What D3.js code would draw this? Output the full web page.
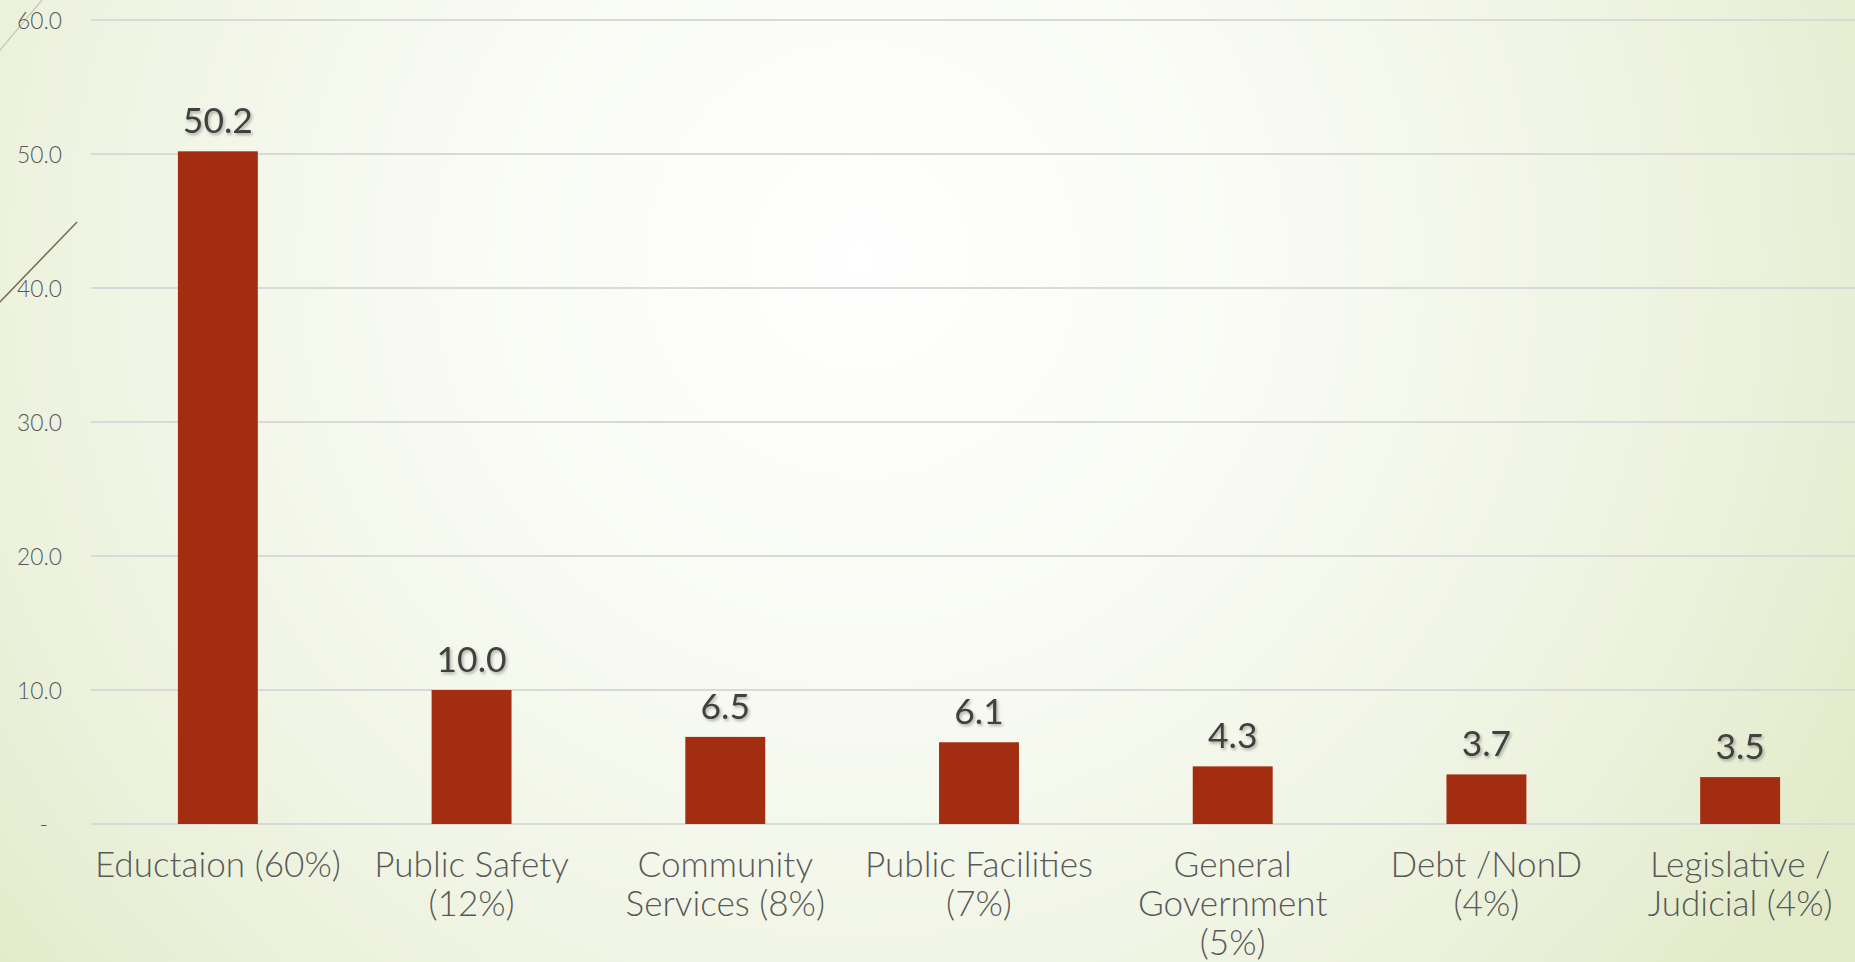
<!DOCTYPE html>
<html>
<head>
<meta charset="utf-8">
<script src="https://cdn.jsdelivr.net/npm/d3@7"></script>
<style>
  html, body { margin: 0; padding: 0; overflow: hidden; }
  body { width: 1855px; height: 962px; }
  svg { display: block; }
</style>
</head>
<body>
<svg id="chart" width="1855" height="962"></svg>
<script>
// ---- data ----
const categories = [
  "Eductaion (60%)",
  "Public Safety (12%)",
  "Community Services (8%)",
  "Public Facilities (7%)",
  "General Government (5%)",
  "Debt /NonD (4%)",
  "Legislative / Judicial (4%)"
];
const categoryLines = [
  ["Eductaion (60%)"],
  ["Public Safety", "(12%)"],
  ["Community", "Services (8%)"],
  ["Public Facilities", "(7%)"],
  ["General", "Government", "(5%)"],
  ["Debt /NonD", "(4%)"],
  ["Legislative /", "Judicial (4%)"]
];
const values = [50.2, 10.0, 6.5, 6.1, 4.3, 3.7, 3.5];
const yTicks = [0, 10, 20, 30, 40, 50, 60];

// ---- setup ----
const W = 1855, H = 962;
const svg = d3.select("#chart");
const FONT = "Lato, 'Open Sans', 'DejaVu Sans', sans-serif";

const defs = svg.append("defs");
const grad = defs.append("radialGradient")
  .attr("id", "bg").attr("gradientUnits", "userSpaceOnUse")
  .attr("cx", 860).attr("cy", 260).attr("r", 1150);
grad.append("stop").attr("offset", "0").attr("stop-color", "#ffffff");
grad.append("stop").attr("offset", "0.35").attr("stop-color", "#f9fbf4");
grad.append("stop").attr("offset", "0.75").attr("stop-color", "#edf2de");
grad.append("stop").attr("offset", "1").attr("stop-color", "#e2eac8");

const shadow = defs.append("filter").attr("id", "shadow")
  .attr("x", "-20%").attr("y", "-20%").attr("width", "140%").attr("height", "140%");
shadow.append("feDropShadow")
  .attr("dx", 1.5).attr("dy", 2).attr("stdDeviation", 1.5)
  .attr("flood-color", "#000").attr("flood-opacity", 0.3);

svg.append("rect").attr("width", W).attr("height", H).attr("fill", "url(#bg)");

// decorative theme lines
svg.append("line").attr("x1", -10).attr("y1", 62).attr("x2", 52).attr("y2", -12)
  .attr("stroke", "#c9cdb9").attr("stroke-width", 1.5);
svg.append("line").attr("x1", -2).attr("y1", 304).attr("x2", 77).attr("y2", 222)
  .attr("stroke", "#7d6e55").attr("stroke-width", 1.6);

// ---- scales ----
const x = d3.scaleBand().domain(categories).range([91, 1867])
  .paddingInner(0.685).paddingOuter(0.3425);
const y = d3.scaleLinear().domain([0, 60]).range([824, 20]);

// gridlines
const grid = svg.append("g");
grid.selectAll("line").data(yTicks).join("line")
  .attr("x1", 91).attr("x2", W)
  .attr("y1", d => y(d)).attr("y2", d => y(d))
  .attr("stroke", "#d9d9d9").attr("stroke-width", 2);

// y axis using d3 axis
const yAxis = d3.axisLeft(y).tickValues(yTicks)
  .tickSize(0).tickPadding(0)
  .tickFormat(d => d === 0 ? "-" : d3.format(".1f")(d));
const yg = svg.append("g").attr("transform", "translate(62,0)").call(yAxis);
yg.select(".domain").remove();
yg.selectAll("text")
  .attr("fill", "#595959").attr("font-family", FONT).attr("font-size", 24)
  .attr("font-weight", 300)
  .attr("dy", "0.36em")
  .attr("dx", d => d === 0 ? -14 : 0);

// bars
svg.append("g").selectAll("rect").data(values).join("rect")
  .attr("x", (d, i) => x(categories[i]))
  .attr("width", x.bandwidth())
  .attr("y", d => y(d))
  .attr("height", d => y(0) - y(d))
  .attr("fill", "#a32d10");

// data labels
const labels = svg.append("g").selectAll("text").data(values).join("text")
  .attr("x", (d, i) => x(categories[i]) + x.bandwidth() / 2)
  .attr("y", d => y(d) - 18)
  .attr("text-anchor", "middle")
  .attr("font-family", FONT).attr("font-size", 36)
  .attr("fill", "#404040")
  .attr("filter", "url(#shadow)")
  .text(d => d3.format(".1f")(d));

// category labels
const cat = svg.append("g");
categoryLines.forEach((lines, i) => {
  const t = cat.append("text")
    .attr("text-anchor", "middle")
    .attr("font-family", FONT).attr("font-size", 30)
    .attr("font-weight", 300)
    .attr("fill", "#595959");
  lines.forEach((ln, j) => {
    t.append("tspan")
      .attr("x", x(categories[i]) + x.bandwidth() / 2)
      .attr("y", 877 + j * 39)
      .text(ln);
  });
});

// fit font sizes to the reference widths
function fit(sel, target, base) {
  const node = sel.node();
  const w = node.getComputedTextLength ? node.getComputedTextLength() : node.getBBox().width;
  return base * target / w;
}
const catFirst = cat.select("text");
const catSize = fit(catFirst, 246, 30);
cat.selectAll("text").attr("font-size", catSize);
const labSize = fit(labels.filter((d, i) => i === 1), 70, 36);
labels.attr("font-size", labSize);
const tickSel = yg.selectAll("text").filter(d => d === 50);
const tickSize = fit(tickSel, 45, 24);
yg.selectAll("text").attr("font-size", tickSize);
</script>
</body>
</html>
